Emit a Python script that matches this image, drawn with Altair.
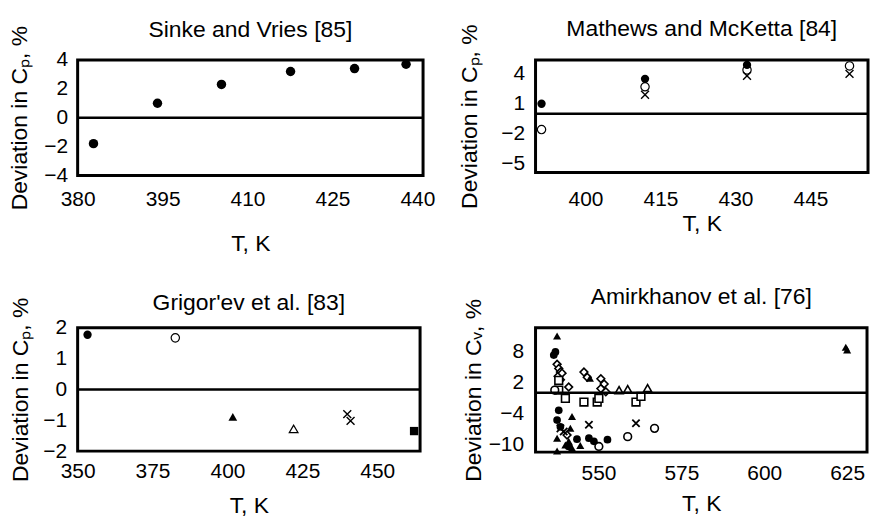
import altair as alt
import pandas as pd

FONT = "Liberation Sans"

# ---------------- data ----------------
# Panel 1: Sinke and Vries [85]
p1_T = [382.8, 394.1, 405.4, 417.6, 428.9, 438.0]
p1_D = [-1.8, 1.0, 2.3, 3.2, 3.4, 3.7]
p1_K = ["fc", "fc", "fc", "fc", "fc", "fc"]

# Panel 2: Mathews and McKetta [84]
p2_T = [391.2, 391.2, 411.9, 411.9, 411.9, 432.3, 432.3, 432.3, 452.8, 452.8]
p2_D = [1.0, -1.6, 3.5, 2.7, 1.9, 4.9, 4.4, 3.8, 4.8, 4.0]
p2_K = ["fc", "oc", "fc", "oc", "x", "fc", "oc", "x", "oc", "x"]

# Panel 3: Grigor'ev et al. [83]
p3_T = [353.3, 382.6, 401.8, 422.1, 440.0, 441.1, 462.3]
p3_D = [1.77, 1.67, -0.89, -1.28, -0.8, -1.02, -1.35]
p3_K = ["fc", "oc", "ft", "ot", "x", "x", "fs"]

# Panel 4: Amirkhanov et al. [76]
p4_T = [537.5, 537.5, 537.0, 536.5, 537.5, 538.0, 538.5, 537.8, 538.5, 538.0,
        538.0, 536.8, 540.0, 541.0, 545.6, 546.6, 547.4, 550.7, 551.7, 550.7,
        552.2, 545.6, 549.6, 550.1, 556.2, 558.8, 564.8, 561.3, 562.8, 538.0,
        537.5, 538.5, 542.0, 538.5, 547.1, 561.3, 537.5, 541.5, 541.0, 540.0,
        542.0, 541.0, 547.1, 552.7, 548.6, 550.1, 558.8, 566.9, 624.6, 625.0,
        539.5, 540.5, 543.5, 544.5, 539.0]
p4_D = [11.0, -11.3, 7.9, 7.3, 5.5, 4.7, 4.0, 3.2, 2.5, 2.4,
        0.5, 0.5, -1.1, 1.1, 4.0, 3.0, 2.8, 2.7, 1.7, 0.8,
        0.2, -1.8, -1.8, -1.1, 0.5, 0.7, 0.9, -1.8, -0.7, -3.4,
        -5.3, -6.6, -4.6, -6.9, -6.2, -5.9, -8.8, -6.9, -9.4, -10.1,
        -10.7, -10.4, -8.8, -9.1, -9.4, -10.4, -8.5, -6.9, 8.8, 8.3,
        -7.5, -8.2, -9.0, -10.2, 3.8]
p4_K = ["ft", "ft", "fc", "fc", "od", "od", "od", "od", "od", "os",
        "os", "oc", "os", "od", "od", "od", "ft", "od", "od", "od",
        "od", "os", "os", "os", "ot", "ot", "ot", "os", "os", "fc",
        "fc", "fc", "ft", "x", "x", "x", "ft", "ft", "ft", "ft",
        "ft", "fc", "fc", "fc", "fc", "oc", "oc", "oc", "ft", "ft",
        "x", "od", "fc", "ft", "od"]

X_PATH = "M-1,-1L1,1M-1,1L1,-1"


def style(kind, s, sw):
    if kind == "fc":
        return dict(shape="circle", filled=True, color="black", size=s, opacity=1)
    if kind == "oc":
        return dict(shape="circle", filled=True, fill="white", stroke="black", strokeWidth=sw, size=s, opacity=1)
    if kind == "x":
        return dict(shape=X_PATH, filled=False, color="black", strokeWidth=sw + 0.2, size=s * 0.9, opacity=1)
    if kind == "ft":
        return dict(shape="triangle-up", filled=True, color="black", size=s * 1.1, opacity=1)
    if kind == "ot":
        return dict(shape="triangle-up", filled=True, fill="white", stroke="black", strokeWidth=sw, size=s * 1.1, opacity=1)
    if kind == "fs":
        return dict(shape="square", filled=True, color="black", size=s, opacity=1)
    if kind == "os":
        return dict(shape="square", filled=True, fill="white", stroke="black", strokeWidth=sw, size=s, opacity=1)
    if kind == "od":
        return dict(shape="diamond", filled=True, fill="white", stroke="black", strokeWidth=sw, size=s, opacity=1)


ORDER = ["od", "os", "ot", "oc", "x", "fs", "ft", "fc"]


def panel(T, D, K, title, ytitle, xdom, ydom, xticks, yticks, w, h, msize, sw,
          title_offset, xlabpad, xtitlepad, ylabpad, ytitlepad):
    df = pd.DataFrame({"T": T, "dev": D, "kind": K})
    xscale = alt.Scale(domain=xdom, nice=False, zero=False)
    yscale = alt.Scale(domain=ydom, nice=False, zero=False)
    xaxis = alt.Axis(values=xticks, title="T, K", labelPadding=xlabpad,
                     titlePadding=xtitlepad, labelFlush=False, labelOverlap=False)
    yaxis = alt.Axis(values=yticks, title=ytitle, labelPadding=ylabpad,
                     titlePadding=ytitlepad, labelFlush=False, labelOverlap=False)
    x = alt.X("T:Q", scale=xscale, axis=xaxis)
    y = alt.Y("dev:Q", scale=yscale, axis=yaxis)
    layers = []
    for k in ORDER:
        if k in K:
            layers.append(
                alt.Chart(df).transform_filter(alt.datum.kind == k)
                .mark_point(**style(k, msize, sw)).encode(x=x, y=y)
            )
    zero = alt.Chart(pd.DataFrame({"z": [0]})).mark_rule(color="black", strokeWidth=2.5).encode(
        y=alt.Y("z:Q", scale=yscale, axis=yaxis)
    )
    layers.append(zero)
    return alt.layer(*layers).properties(
        width=w, height=h,
        title=alt.TitleParams(title, fontSize=23, fontWeight="normal", font=FONT,
                              color="black", offset=title_offset, anchor="middle",
                              frame="group"),
    )


c1 = panel(p1_T, p1_D, p1_K, "Sinke and Vries [85]", "Deviation in C\u209a, %",
           [380, 441], [-4, 4], [380, 395, 410, 425, 440], [-4, -2, 0, 2, 4],
           347, 116, 90, 1.2, -16.5, 13, 23, 10, 12)
c2 = panel(p2_T, p2_D, p2_K, "Mathews and McKetta  [84]", "Deviation in C\u209a, %",
           [390, 456.5], [-5.9, 5.4], [400, 415, 430, 445], [-5, -2, 1, 4],
           334, 113, 70, 1.2, -17, 16, 3, 11, 19)
c3 = panel(p3_T, p3_D, p3_K, "Grigor'ev et al. [83]", "Deviation in C\u209a, %",
           [350, 464.3], [-2, 2], [350, 375, 400, 425, 450], [-2, -1, 0, 1, 2],
           344, 124, 70, 1.2, -17.5, 10, 13, 11, 10)
c4 = panel(p4_T, p4_D, p4_K, "Amirkhanov et al. [76]", "Deviation in C\u1d65, %",
           [531, 631], [-11.5, 12.6], [550, 575, 600, 625], [-10, -4, 2, 8],
           333, 125, 60, 1.6, -11, 11, 9, 12, 3)

chart = alt.concat(c1, c2, c3, c4, columns=2, spacing={"row": 153, "column": 113}, bounds="flush").properties(
    padding={"left": 7, "top": 15, "right": 0, "bottom": 0},
).configure(font=FONT).configure_view(
    stroke="black", strokeWidth=3
).configure_axis(
    grid=False, ticks=False, domain=False,
    labelFont=FONT, titleFont=FONT, labelFontSize=21, titleFontSize=23,
    titleFontWeight="normal", labelColor="black", titleColor="black",
)

chart.save("out.html", embed_options={"renderer": "svg", "actions": False})
